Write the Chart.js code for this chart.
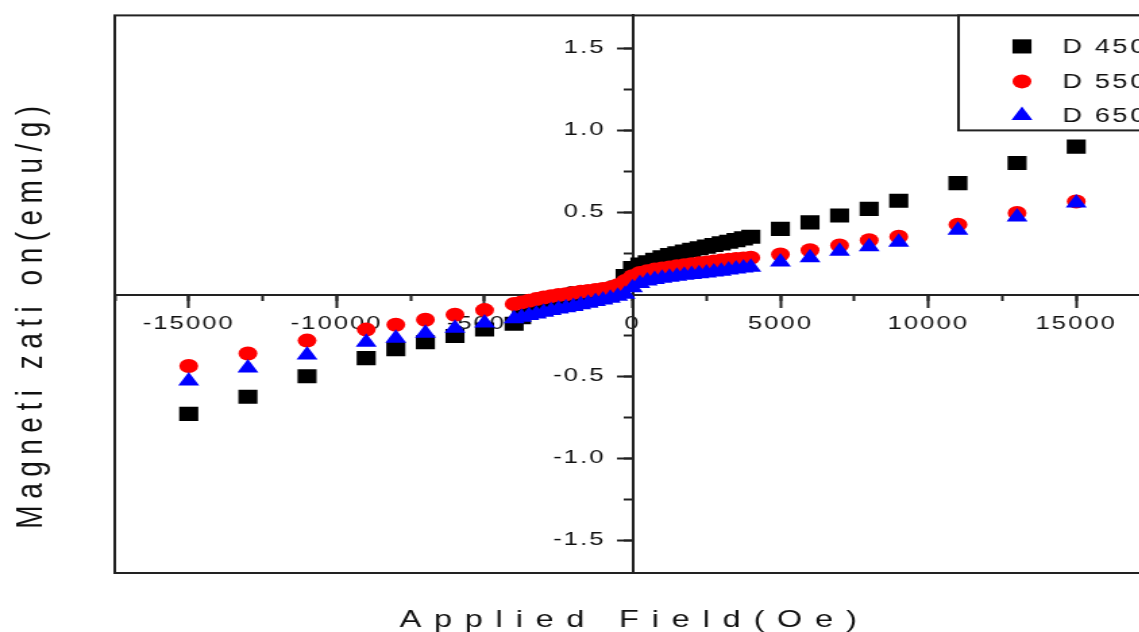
<!DOCTYPE html>
<html lang="en">
  <head>
    <meta charset="UTF-8" />
    <title>Magnetization vs Applied Field</title>
    <script src="https://cdn.jsdelivr.net/npm/chart.js@4.4.1/dist/chart.umd.min.js"></script>
    <style>
      html, body { margin: 0; padding: 0; background: #fff; overflow: hidden; }
      /* the source figure is stretched sideways, so the whole canvas is too */
      .stretch { width: 862px; height: 637px; margin-top: -5px; transform: scaleX(1.35); transform-origin: 0 0; }
    </style>
  </head>
  <body>
    <div class="stretch">
      <canvas id="mhChart" width="862" height="637"></canvas>
    </div>
    <script>
      // applied field (Oe), shared by the three samples
      const fieldOe = [
        -15000, -13000, -11000, -9000, -8000, -7000, -6000, -5000,
        -4000, -3750, -3500, -3250, -3000, -2750, -2500, -2250, -2000, -1750, -1500, -1250, -1000, -750, -500, -250,
        0, 250, 500, 750, 1000, 1250, 1500, 1750, 2000, 2250, 2500, 2750, 3000, 3250, 3500, 3750, 4000,
        5000, 6000, 7000, 8000, 9000, 11000, 13000, 15000
      ];
      // magnetization (emu/g)
      const magD450 = [
        -0.73, -0.625, -0.50, -0.39, -0.335, -0.293, -0.255, -0.215,
        -0.18, -0.14, -0.11, -0.10, -0.09, -0.08, -0.07, -0.063, -0.055, -0.045, -0.035, -0.025, -0.015, 0.0, 0.04, 0.11,
        0.16, 0.18, 0.195, 0.21, 0.225, 0.238, 0.25, 0.26, 0.27, 0.28, 0.29, 0.30, 0.31, 0.32, 0.33, 0.34, 0.35,
        0.398, 0.438, 0.48, 0.52, 0.57, 0.677, 0.80, 0.90
      ];
      const magD550 = [
        -0.438, -0.362, -0.283, -0.216, -0.186, -0.156, -0.125, -0.097,
        -0.06, -0.05, -0.04, -0.03, -0.02, -0.012, -0.005, 0.0, 0.008, 0.015, 0.02, 0.025, 0.032, 0.04, 0.055, 0.08,
        0.11, 0.13, 0.14, 0.15, 0.157, 0.163, 0.17, 0.176, 0.182, 0.188, 0.193, 0.199, 0.205, 0.21, 0.214, 0.218, 0.222,
        0.242, 0.268, 0.297, 0.329, 0.35, 0.424, 0.495, 0.565
      ];
      const magD650 = [
        -0.53, -0.45, -0.37, -0.293, -0.269, -0.238, -0.208, -0.175,
        -0.15, -0.14, -0.13, -0.12, -0.11, -0.10, -0.09, -0.083, -0.075, -0.065, -0.055, -0.045, -0.035, -0.025, -0.012, 0.0,
        0.04, 0.065, 0.08, 0.09, 0.097, 0.104, 0.11, 0.115, 0.12, 0.125, 0.13, 0.135, 0.14, 0.147, 0.153, 0.16, 0.165,
        0.196, 0.222, 0.262, 0.289, 0.317, 0.39, 0.471, 0.556
      ];
      const seriesNames = ["D 450", "D 550", "D 650"];
      const seriesColors = ["#000000", "#ff0000", "#0000ff"];
      const seriesShapes = ["rect", "circle", "triangle"];
      const seriesRadius = [10, 7, 9];
      const xTitle = "Applied Field(Oe)";
      const yTitle = "Magneti zati on(emu/g)";

      const seriesValues = [magD450, magD550, magD650];
      const toPoints = (ys) => fieldOe.map((f, i) => ({ x: f, y: ys[i] }));

      const tickFont = { family: "Liberation Sans", size: 19 };

      function drawMarker(ctx, shape, x, y, r, color) {
        ctx.fillStyle = color;
        ctx.beginPath();
        if (shape === "rect") {
          const h = r * Math.SQRT1_2;
          ctx.rect(x - h, y - h, 2 * h, 2 * h);
        } else if (shape === "circle") {
          ctx.arc(x, y, r, 0, Math.PI * 2);
        } else {
          ctx.moveTo(x, y - r);
          ctx.lineTo(x + 0.866 * r, y + 0.5 * r);
          ctx.lineTo(x - 0.866 * r, y + 0.5 * r);
          ctx.closePath();
        }
        ctx.fill();
      }

      const spacedText = {
        id: "spacedText",
        beforeDraw(chart) {
          chart.ctx.letterSpacing = "1.5px";
        },
        beforeDatasetsDraw(chart) {
          const { ctx, chartArea } = chart;
          ctx.save();
          ctx.strokeStyle = "#222";
          ctx.lineWidth = 2;
          ctx.strokeRect(chartArea.left, chartArea.top, chartArea.right - chartArea.left, chartArea.bottom - chartArea.top);
          ctx.restore();
        },
        afterDraw(chart) {
          const ctx = chart.ctx;
          const top = chart.chartArea.top;

          // legend box, inside the top right corner of the plot
          ctx.save();
          ctx.strokeStyle = "#222";
          ctx.lineWidth = 2;
          ctx.fillStyle = "#fff";
          ctx.fillRect(710, top, 200, 115);
          ctx.strokeRect(710, top, 200, 115);
          ctx.font = "20px 'Liberation Sans'";
          ctx.letterSpacing = "2px";
          ctx.textAlign = "left";
          ctx.textBaseline = "middle";
          const rows = [top + 31, top + 66, top + 100];
          seriesNames.forEach((name, i) => {
            drawMarker(ctx, seriesShapes[i], 757, rows[i], seriesRadius[i], seriesColors[i]);
            ctx.fillStyle = "#111";
            ctx.fillText(name, 787, rows[i] + 1);
          });
          ctx.restore();

          // axis titles
          ctx.save();
          ctx.fillStyle = "#111";
          ctx.font = "24px 'Liberation Sans'";
          ctx.letterSpacing = "9.5px";
          ctx.textAlign = "center";
          ctx.textBaseline = "alphabetic";
          ctx.fillText(xTitle, 470, 632);
          ctx.restore();

          ctx.save();
          ctx.fillStyle = "#111";
          ctx.font = "28px 'Liberation Sans'";
          ctx.letterSpacing = "6.5px";
          ctx.textAlign = "center";
          ctx.textBaseline = "alphabetic";
          ctx.translate(31, 322);
          ctx.rotate(-Math.PI / 2);
          ctx.fillText(yTitle, 3, 0);
          ctx.restore();
        }
      };

      new Chart(document.getElementById("mhChart").getContext("2d"), {
        type: "scatter",
        data: {
          datasets: seriesNames.map((name, i) => ({
            label: name,
            data: toPoints(seriesValues[i]),
            pointStyle: seriesShapes[i],
            pointRadius: seriesRadius[i],
            pointHoverRadius: seriesRadius[i],
            backgroundColor: seriesColors[i],
            borderColor: seriesColors[i],
            borderWidth: 0,
            order: 3 - i
          }))
        },
        options: {
          responsive: false,
          animation: false,
          devicePixelRatio: 1,
          layout: { padding: { left: 85, right: 1, top: 20, bottom: 59 } },
          plugins: { legend: { display: false }, tooltip: { enabled: false } },
          scales: {
            x: {
              type: "linear",
              position: "center",
              min: -17500,
              max: 17500,
              ticks: {
                includeBounds: false,
                autoSkip: false,
                maxRotation: 0,
                padding: 6,
                color: "#111",
                font: tickFont,
                callback: (v) => (v % 5000 === 0 ? String(v) : "")
              },
              grid: { drawOnChartArea: false, tickLength: 12, tickWidth: 2, tickColor: "#222" },
              border: { display: true, color: "#222", width: 2 }
            },
            x2: {
              type: "linear",
              axis: "x",
              position: "center",
              min: -17500,
              max: 17500,
              ticks: { display: false, stepSize: 2500, includeBounds: false },
              grid: { drawOnChartArea: false, tickLength: 6, tickWidth: 2, tickColor: "#222" },
              border: { display: false }
            },
            y: {
              type: "linear",
              position: "center",
              min: -1.7,
              max: 1.7,
              ticks: {
                stepSize: 0.5,
                includeBounds: false,
                autoSkip: false,
                padding: 9,
                color: "#111",
                font: tickFont,
                callback: (v) => v.toFixed(1)
              },
              grid: { drawOnChartArea: false, tickLength: 11, tickWidth: 2, tickColor: "#222" },
              border: { display: true, color: "#222", width: 2 }
            },
            y2: {
              type: "linear",
              axis: "y",
              position: "center",
              min: -1.7,
              max: 1.7,
              ticks: { display: false, stepSize: 0.25, includeBounds: false },
              grid: { drawOnChartArea: false, tickLength: 7, tickWidth: 2, tickColor: "#222" },
              border: { display: false }
            }
          }
        },
        plugins: [spacedText]
      });
    </script>
  </body>
</html>
